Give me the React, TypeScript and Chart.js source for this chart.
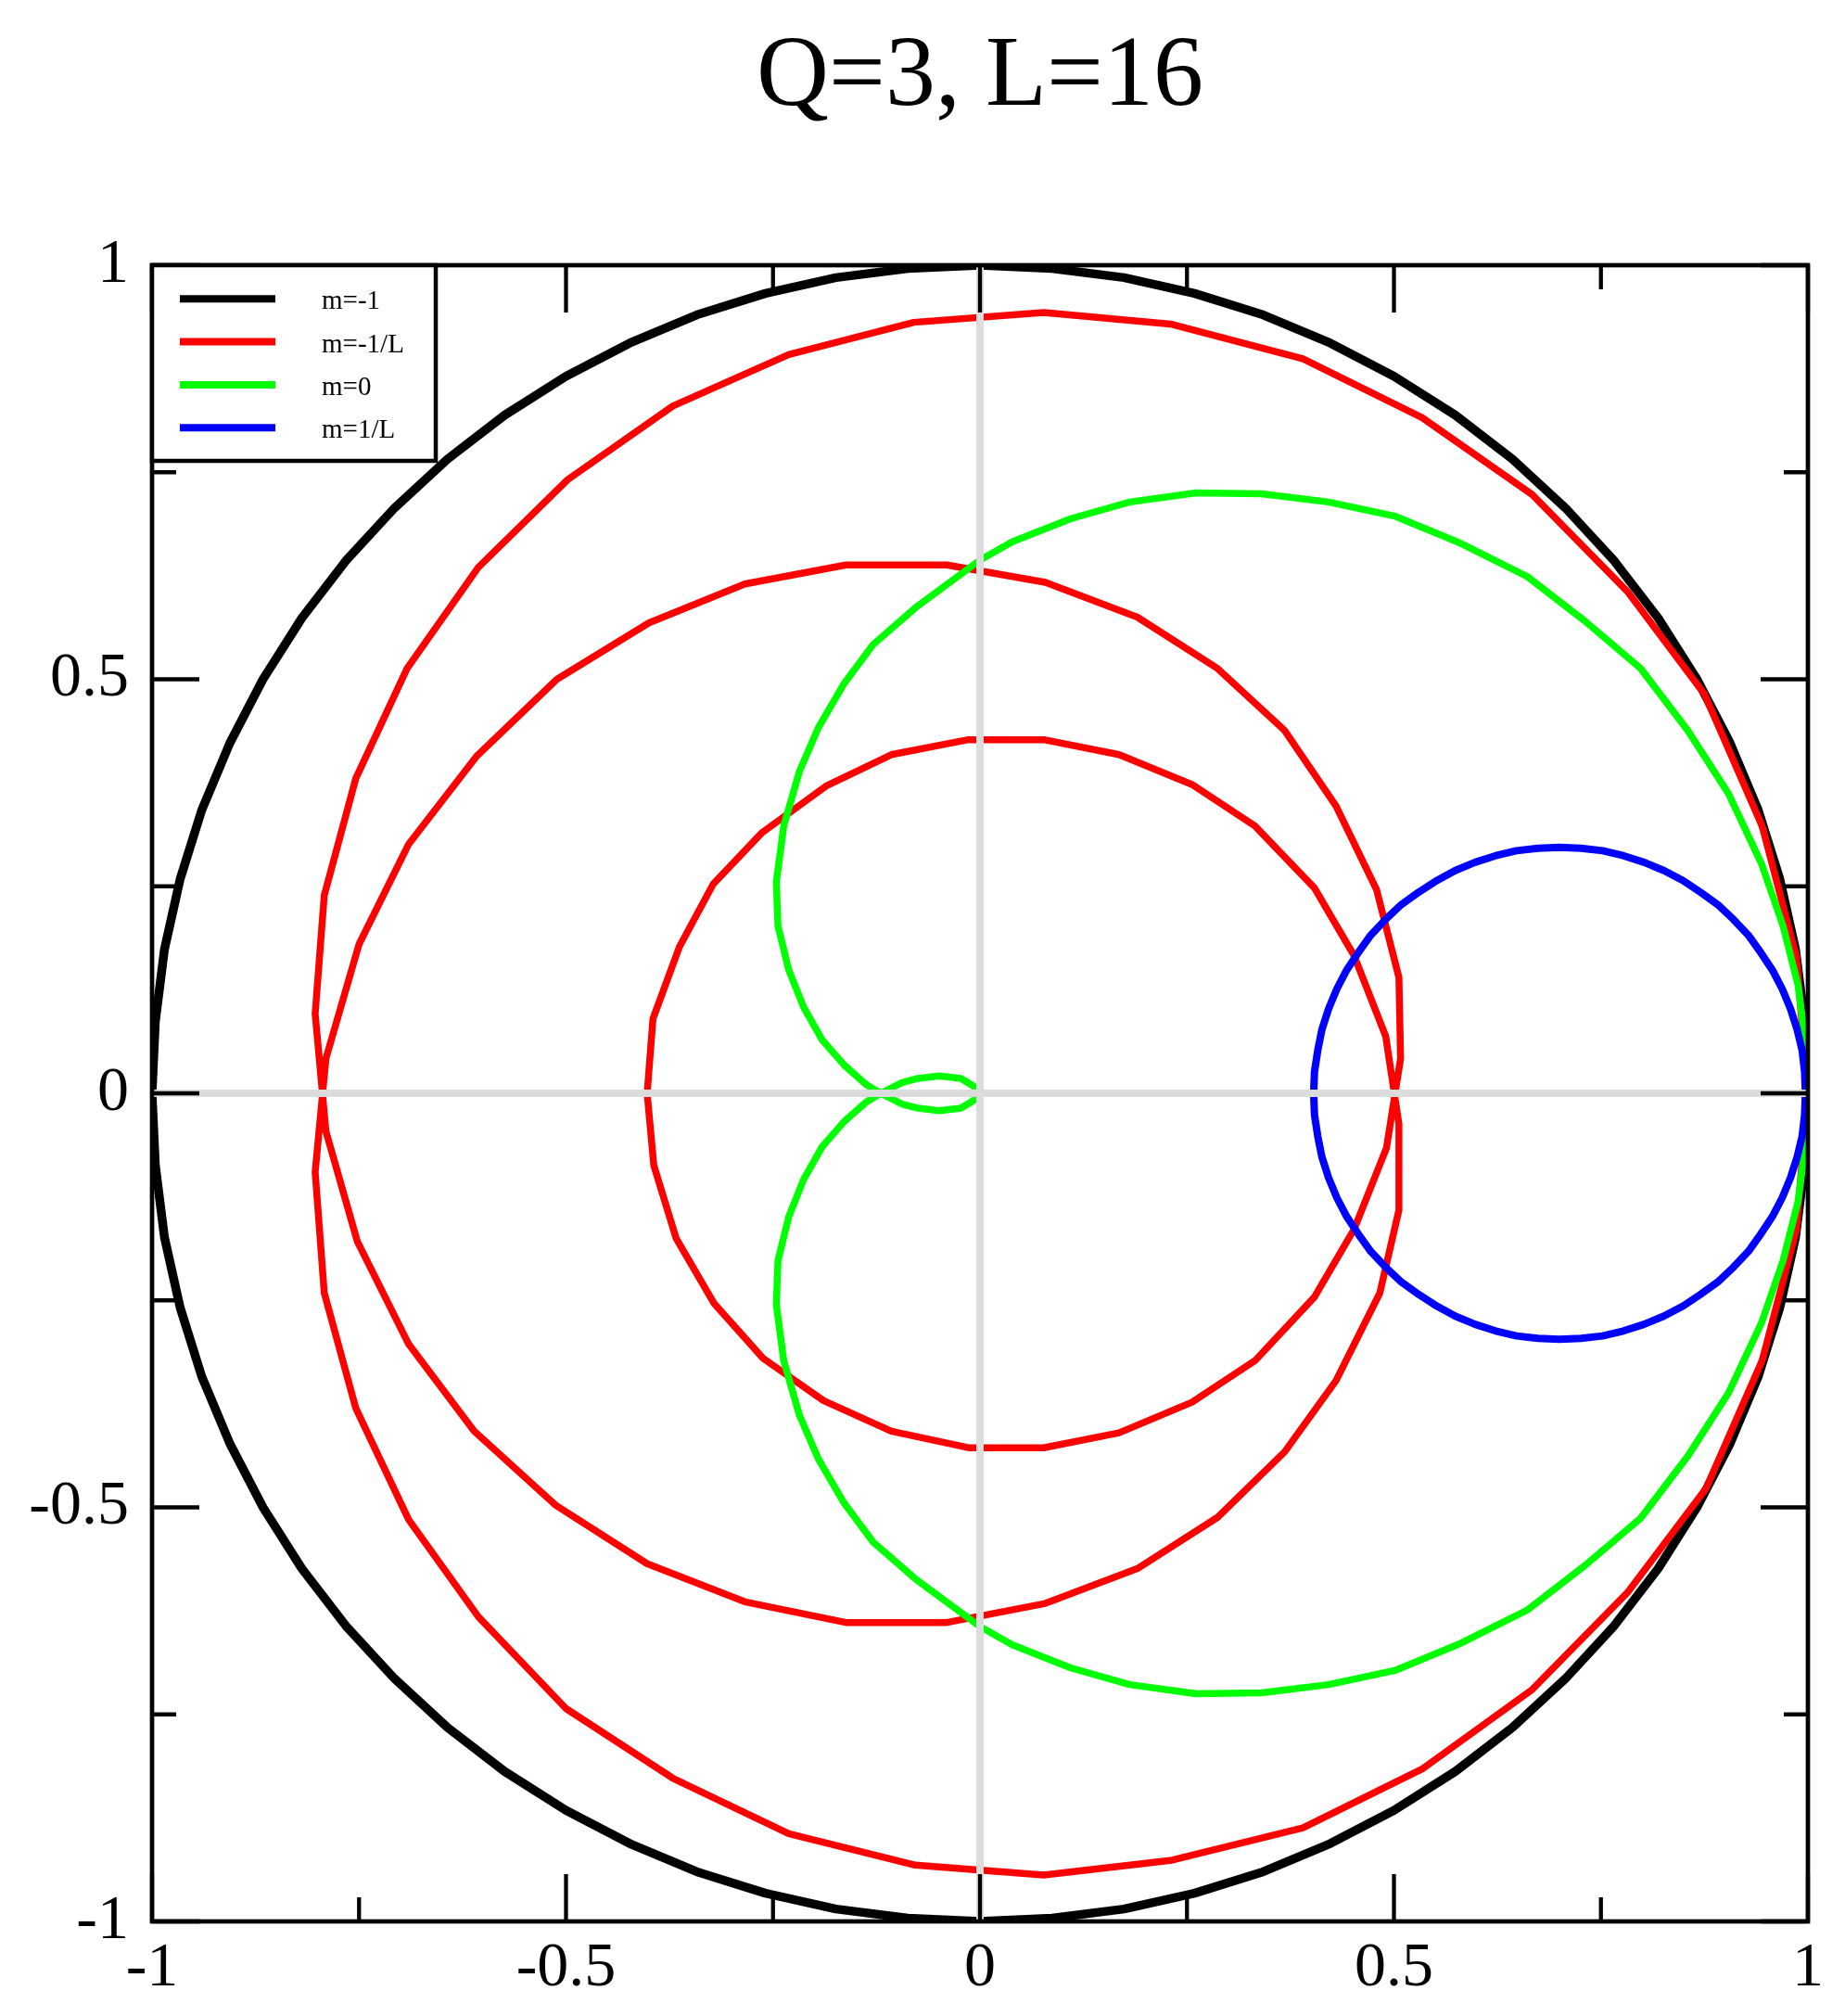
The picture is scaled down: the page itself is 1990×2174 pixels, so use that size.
import React, { useEffect, useRef } from "react";
import { Chart, registerables } from "chart.js";

Chart.register(...registerables);

const TITLE = "Q=3, L=16";
const SERIES_LABELS = ["m=-1", "m=-1/L", "m=0", "m=1/L"];
const SERIES_COLORS = ["#000000", "#ff0000", "#00ff00", "#0000ff"];
const SERIES_WIDTHS = [9.5, 7.5, 7.5, 8];
const AXIS_MIN = -1;
const AXIS_MAX = 1;
const MAJOR_TICKS = [-1, -0.5, 0, 0.5, 1];
const MINOR_TICKS = [-0.75, -0.25, 0.25, 0.75];
const TICK_LABELS = ["-1", "-0.5", "0", "0.5", "1"];
const FONT = "'Liberation Serif', 'Times New Roman', serif";

// m = -1
const m1Pts: number[][] = [
  [1, 0], [0.996, 0.087], [0.985, 0.174], [0.966, 0.259], [0.94, 0.342], [0.906, 0.423],
  [0.866, 0.5], [0.819, 0.574], [0.766, 0.643], [0.707, 0.707], [0.643, 0.766], [0.574, 0.819],
  [0.5, 0.866], [0.423, 0.906], [0.342, 0.94], [0.259, 0.966], [0.174, 0.985], [0.087, 0.996],
  [0, 1], [-0.087, 0.996], [-0.174, 0.985], [-0.259, 0.966], [-0.342, 0.94], [-0.423, 0.906],
  [-0.5, 0.866], [-0.574, 0.819], [-0.643, 0.766], [-0.707, 0.707], [-0.766, 0.643], [-0.819, 0.574],
  [-0.866, 0.5], [-0.906, 0.423], [-0.94, 0.342], [-0.966, 0.259], [-0.985, 0.174], [-0.996, 0.087],
  [-1, 0], [-0.996, -0.087], [-0.985, -0.174], [-0.966, -0.259], [-0.94, -0.342], [-0.906, -0.423],
  [-0.866, -0.5], [-0.819, -0.574], [-0.766, -0.643], [-0.707, -0.707], [-0.643, -0.766], [-0.574, -0.819],
  [-0.5, -0.866], [-0.423, -0.906], [-0.342, -0.94], [-0.259, -0.966], [-0.174, -0.985], [-0.087, -0.996],
  [0, -1], [0.087, -0.996], [0.174, -0.985], [0.259, -0.966], [0.342, -0.94], [0.423, -0.906],
  [0.5, -0.866], [0.574, -0.819], [0.643, -0.766], [0.707, -0.707], [0.766, -0.643], [0.819, -0.574],
  [0.866, -0.5], [0.906, -0.423], [0.94, -0.342], [0.966, -0.259], [0.985, -0.174], [0.996, -0.087],
  [1, 0],
];

// m = -1/L
const mInvNegPts: number[][] = [
  [-0.402, 0.0], [-0.394, -0.087], [-0.367, -0.175], [-0.321, -0.254], [-0.262, -0.32],
  [-0.189, -0.371], [-0.107, -0.408], [-0.014, -0.428], [0.077, -0.428], [0.168, -0.41],
  [0.256, -0.373], [0.332, -0.323], [0.404, -0.246], [0.452, -0.164], [0.491, -0.066],
  [0.508, 0.042], [0.506, 0.14], [0.479, 0.246], [0.43, 0.347], [0.368, 0.438],
  [0.287, 0.513], [0.19, 0.575], [0.079, 0.617], [-0.04, 0.638], [-0.162, 0.638],
  [-0.284, 0.615], [-0.4, 0.568], [-0.511, 0.5], [-0.608, 0.407], [-0.69, 0.301],
  [-0.75, 0.18], [-0.79, 0.042], [-0.803, -0.095], [-0.792, -0.241], [-0.754, -0.38],
  [-0.69, -0.515], [-0.606, -0.632], [-0.5, -0.743], [-0.371, -0.827], [-0.231, -0.894],
  [-0.078, -0.932], [0.077, -0.944], [0.232, -0.926], [0.39, -0.887], [0.534, -0.816],
  [0.667, -0.72], [0.782, -0.603], [0.877, -0.477], [0.945, -0.322], [0.986, -0.165],
  [1.0, 0.0],
  [0.986, 0.165], [0.945, 0.322], [0.875, 0.482], [0.782, 0.606], [0.667, 0.723],
  [0.534, 0.816], [0.39, 0.887], [0.23, 0.929], [0.077, 0.943], [-0.08, 0.931],
  [-0.231, 0.892], [-0.371, 0.83], [-0.498, 0.741], [-0.606, 0.635], [-0.692, 0.513],
  [-0.754, 0.38], [-0.792, 0.239], [-0.803, 0.096], [-0.79, -0.046], [-0.752, -0.179],
  [-0.69, -0.303], [-0.611, -0.408], [-0.513, -0.497], [-0.402, -0.568], [-0.284, -0.614],
  [-0.162, -0.639], [-0.04, -0.639], [0.079, -0.616], [0.19, -0.574], [0.287, -0.512],
  [0.368, -0.433], [0.43, -0.347], [0.483, -0.241], [0.506, -0.141], [0.506, -0.037],
  [0.49, 0.069], [0.452, 0.166], [0.404, 0.248], [0.332, 0.323], [0.256, 0.373],
  [0.168, 0.409], [0.077, 0.427], [-0.014, 0.427], [-0.107, 0.409], [-0.186, 0.371],
  [-0.263, 0.315], [-0.322, 0.253], [-0.363, 0.177], [-0.395, 0.09], [-0.402, 0.0],
];

// m = 0
const m0Pts: number[][] = [
  [0, 0], [-0.005, 0.007], [-0.023, 0.018], [-0.049, 0.021], [-0.075, 0.018], [-0.094, 0.013],
  [-0.12, 0], [-0.138, -0.011], [-0.164, -0.034], [-0.191, -0.065], [-0.213, -0.104],
  [-0.231, -0.149], [-0.244, -0.202], [-0.246, -0.255], [-0.237, -0.323], [-0.218, -0.389],
  [-0.195, -0.442], [-0.164, -0.495], [-0.129, -0.542], [-0.076, -0.588], [0.0, -0.644],
  [0.039, -0.666], [0.11, -0.694], [0.181, -0.714], [0.261, -0.725], [0.34, -0.724],
  [0.421, -0.714], [0.501, -0.697], [0.581, -0.664], [0.661, -0.624], [0.731, -0.57],
  [0.798, -0.513], [0.855, -0.438], [0.904, -0.362], [0.944, -0.277], [0.97, -0.202],
  [0.988, -0.131], [0.996, -0.07], [1.0, 0],
  [0.996, 0.07], [0.988, 0.131], [0.97, 0.202], [0.944, 0.277], [0.904, 0.362],
  [0.855, 0.438], [0.798, 0.513], [0.731, 0.57], [0.661, 0.624], [0.581, 0.664],
  [0.501, 0.697], [0.421, 0.714], [0.34, 0.724], [0.261, 0.725], [0.181, 0.714],
  [0.11, 0.694], [0.039, 0.666], [0.0, 0.644], [-0.076, 0.588], [-0.129, 0.542],
  [-0.164, 0.495], [-0.195, 0.442], [-0.218, 0.389], [-0.237, 0.323], [-0.246, 0.255],
  [-0.244, 0.202], [-0.231, 0.149], [-0.213, 0.104], [-0.191, 0.065], [-0.164, 0.034],
  [-0.138, 0.011], [-0.12, 0], [-0.094, -0.013], [-0.075, -0.018], [-0.049, -0.021],
  [-0.023, -0.018], [-0.005, -0.007], [0, 0],
];

// m = 1/L
const mInvPosPts: number[][] = [
  [0.997, 0], [0.996, 0.026], [0.993, 0.052], [0.987, 0.077], [0.979, 0.102], [0.969, 0.126],
  [0.957, 0.149], [0.943, 0.17], [0.928, 0.191], [0.91, 0.21], [0.891, 0.228], [0.87, 0.243],
  [0.849, 0.257], [0.826, 0.269], [0.802, 0.279], [0.777, 0.287], [0.752, 0.293], [0.726, 0.296],
  [0.7, 0.297], [0.674, 0.296], [0.648, 0.293], [0.623, 0.287], [0.598, 0.279], [0.574, 0.269],
  [0.552, 0.257], [0.53, 0.243], [0.509, 0.228], [0.49, 0.21], [0.472, 0.191], [0.457, 0.17],
  [0.443, 0.149], [0.431, 0.126], [0.421, 0.102], [0.413, 0.077], [0.408, 0.052], [0.404, 0.026],
  [0.403, 0], [0.404, -0.026], [0.408, -0.052], [0.413, -0.077], [0.421, -0.102], [0.431, -0.126],
  [0.443, -0.149], [0.457, -0.17], [0.472, -0.191], [0.49, -0.21], [0.509, -0.228], [0.53, -0.243],
  [0.552, -0.257], [0.574, -0.269], [0.598, -0.279], [0.623, -0.287], [0.648, -0.293], [0.674, -0.296],
  [0.7, -0.297], [0.726, -0.296], [0.752, -0.293], [0.777, -0.287], [0.802, -0.279], [0.826, -0.269],
  [0.849, -0.257], [0.87, -0.243], [0.891, -0.228], [0.91, -0.21], [0.928, -0.191], [0.943, -0.17],
  [0.957, -0.149], [0.969, -0.126], [0.979, -0.102], [0.987, -0.077], [0.993, -0.052], [0.996, -0.026],
  [0.997, 0],
];

const SERIES_POINTS = [m1Pts, mInvNegPts, m0Pts, mInvPosPts];

const tickLabel = (v: number | string) => {
  const idx = MAJOR_TICKS.indexOf(Number(v));
  return idx >= 0 ? TICK_LABELS[idx] : "";
};

const decorPlugin = {
  id: "decor",
  afterDatasetsDraw(chart: any) {
    const { ctx, chartArea: a, scales } = chart;
    const xs = scales.x;
    const ys = scales.y;
    ctx.save();
    // zero lines
    ctx.strokeStyle = "#dcdcdc";
    ctx.lineWidth = 8;
    ctx.lineCap = "butt";
    const x0 = xs.getPixelForValue(0);
    const y0 = ys.getPixelForValue(0);
    ctx.beginPath();
    ctx.moveTo(a.left, y0);
    ctx.lineTo(a.right, y0);
    ctx.moveTo(x0, a.top);
    ctx.lineTo(x0, a.bottom);
    ctx.stroke();

    // ticks (inward, all four sides)
    ctx.strokeStyle = "#000";
    ctx.lineWidth = 4.3;
    const drawTicks = (vals: number[], len: number) => {
      ctx.beginPath();
      for (const v of vals) {
        const px = xs.getPixelForValue(v);
        const py = ys.getPixelForValue(v);
        ctx.moveTo(px, a.bottom);
        ctx.lineTo(px, a.bottom - len);
        ctx.moveTo(px, a.top);
        ctx.lineTo(px, a.top + len);
        ctx.moveTo(a.left, py);
        ctx.lineTo(a.left + len, py);
        ctx.moveTo(a.right, py);
        ctx.lineTo(a.right - len, py);
      }
      ctx.stroke();
    };
    drawTicks(MAJOR_TICKS, 51);
    drawTicks(MINOR_TICKS, 26);

    // frame
    ctx.lineWidth = 4.7;
    ctx.strokeRect(a.left, a.top, a.right - a.left, a.bottom - a.top);

    // legend
    const lx = a.left;
    const ly = a.top;
    const lw = 306;
    const lh = 211;
    ctx.fillStyle = "#fff";
    ctx.fillRect(lx, ly, lw, lh);
    ctx.lineWidth = 4.5;
    ctx.strokeStyle = "#000";
    ctx.strokeRect(lx, ly, lw, lh);
    ctx.font = `29px ${FONT}`;
    ctx.textAlign = "left";
    ctx.textBaseline = "alphabetic";
    chart.data.datasets.forEach((ds: any, i: number) => {
      const yy = ly + 36.3 + i * 46.3;
      ctx.strokeStyle = ds.borderColor;
      ctx.lineWidth = 8;
      ctx.beginPath();
      ctx.moveTo(lx + 30, yy);
      ctx.lineTo(lx + 133, yy);
      ctx.stroke();
      ctx.fillStyle = "#000";
      ctx.fillText(ds.label, lx + 183, yy + 11);
    });
    ctx.restore();
  },
};

export default function App() {
  const canvasRef = useRef<HTMLCanvasElement | null>(null);

  useEffect(() => {
    const canvas = canvasRef.current;
    if (!canvas) return;
    const datasets = SERIES_POINTS.map((pts, i) => ({
      label: SERIES_LABELS[i],
      data: pts.map(([x, y]) => ({ x, y })),
      borderColor: SERIES_COLORS[i],
      backgroundColor: SERIES_COLORS[i],
      borderWidth: SERIES_WIDTHS[i],
      showLine: true,
      pointRadius: 0,
      pointHoverRadius: 0,
      fill: false,
      tension: 0,
      borderJoinStyle: "round" as const,
      order: SERIES_POINTS.length - i,
    }));

    const tickFont = { family: FONT, size: 68, weight: "normal" as const, lineHeight: 1.2 };

    const chart = new Chart(canvas, {
      type: "scatter",
      data: { datasets },
      options: {
        animation: false,
        responsive: false,
        devicePixelRatio: 1,
        layout: { padding: { left: 0, right: 40, top: 0, bottom: 0 } },
        plugins: {
          legend: { display: false },
          tooltip: { enabled: false },
          title: {
            display: true,
            text: TITLE,
            fullSize: false,
            color: "#000",
            font: { family: FONT, size: 108, weight: "normal", lineHeight: 1.2 },
            padding: { top: 20, bottom: 136.4 },
          },
        },
        scales: {
          x: {
            type: "linear",
            position: "bottom",
            min: AXIS_MIN,
            max: AXIS_MAX,
            grid: { display: false, drawTicks: false },
            border: { display: false },
            ticks: {
              stepSize: 0.5,
              padding: 10,
              color: "#000",
              font: tickFont,
              maxRotation: 0,
              autoSkip: false,
              callback: tickLabel,
            },
            afterFit: (scale: any) => {
              scale.height = 102;
            },
          },
          y: {
            type: "linear",
            position: "left",
            min: AXIS_MIN,
            max: AXIS_MAX,
            grid: { display: false, drawTicks: false },
            border: { display: false },
            ticks: {
              stepSize: 0.5,
              padding: 25,
              color: "#000",
              font: tickFont,
              autoSkip: false,
              callback: tickLabel,
            },
            afterFit: (scale: any) => {
              scale.width = 164;
            },
          },
        },
      },
      plugins: [decorPlugin],
    });

    return () => {
      chart.destroy();
    };
  }, []);

  return (
    <div style={{ position: "absolute", left: 0, top: 0, width: 1990, height: 2174, background: "#fff" }}>
      <canvas ref={canvasRef} width={1990} height={2174} style={{ display: "block" }} />
    </div>
  );
}
